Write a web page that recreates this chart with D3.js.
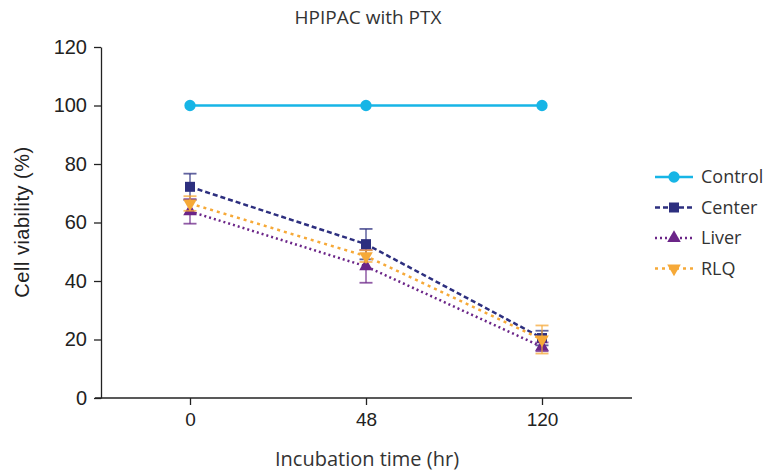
<!DOCTYPE html>
<html>
<head>
<meta charset="utf-8">
<script src="https://cdn.jsdelivr.net/npm/d3@7"></script>
<style>
  body { margin: 0; background: #fff; }
  text { font-family: "Liberation Sans", Arial, sans-serif; fill: #222; }
  .sans { font-family: "Open Sans", "Noto Sans", sans-serif; fill: #333; }
</style>
</head>
<body>
<div id="holder"></div>
<script>
const w = 765;
const h = 472;

// DATA
const times = ["0", "48", "120"];
const control = [100, 100, 100];
const controlErr = [0, 0, 0];
const center = [72.2, 52.6, 20.5];
const centerErr = [4.5, 5.2, 2.5];
const liver = [63.8, 45, 17.5];
const liverErr = [4.2, 5.6, 1.5];
const rlq = [66.5, 48.5, 20];
const rlqErr = [2.5, 2, 4.8];
const yTicks = [0, 20, 40, 60, 80, 100, 120];

const series = [
    { name: "Control", values: control, err: controlErr, color: "#17b5e6", dash: null, symbol: d3.symbolCircle, size: 100, rot: 0 },
    { name: "Center", values: center, err: centerErr, color: "#2d2f7f", dash: "5,3", symbol: d3.symbolSquare, size: 100, rot: 0 },
    { name: "Liver", values: liver, err: liverErr, color: "#6b2588", dash: "2,3", symbol: d3.symbolTriangle, size: 80, rot: 0 },
    { name: "RLQ", values: rlq, err: rlqErr, color: "#f6a938", dash: "3,4", symbol: d3.symbolTriangle, size: 80, rot: 180 }
];

// CREATE SVG
const svg = d3.select("#holder")
    .append("svg")
    .attr("width", w)
    .attr("height", h);

// SCALES
const xScale = d3.scalePoint()
    .domain(times)
    .range([102, 630])
    .padding(0.5);

const yScale = d3.scaleLinear()
    .domain([0, 120])
    .range([398, 47]);

// Y AXIS
const yAxis = d3.axisLeft(yScale).tickValues(yTicks).tickSize(7).tickSizeOuter(0).tickPadding(7);
const gy = svg.append("g")
    .attr("transform", "translate(101,0)")
    .call(yAxis);
gy.selectAll("text").style("font-size", "20px").style("font-family", "Liberation Sans").attr("fill", "#222");
gy.selectAll("line, path").attr("stroke", "#222").attr("stroke-width", 1.3);

// X AXIS
const xAxis = d3.axisBottom(xScale).tickSize(7).tickSizeOuter(0).tickPadding(8);
const gx = svg.append("g")
    .attr("transform", "translate(0,398)")
    .call(xAxis);
gx.select(".domain").remove();
gx.append("line")
    .attr("x1", 95).attr("x2", 632)
    .attr("stroke", "#222").attr("stroke-width", 1.3);
gx.selectAll("text").style("font-size", "19px").style("font-family", "Liberation Sans").attr("fill", "#222");
gx.selectAll("line").attr("stroke", "#222").attr("stroke-width", 1.3);

// TITLES
svg.append("text")
    .attr("class", "sans")
    .attr("x", 368).attr("y", 24)
    .attr("text-anchor", "middle")
    .style("font-size", "19px")
    .text("HPIPAC with PTX");

svg.append("text")
    .attr("class", "sans")
    .attr("x", 367).attr("y", 466)
    .attr("text-anchor", "middle")
    .style("font-size", "20px")
    .text("Incubation time (hr)");

svg.append("text")
    .attr("transform", "translate(29,222) rotate(-90)")
    .attr("text-anchor", "middle")
    .style("font-size", "20px")
    .style("letter-spacing", "0.5px")
    .text("Cell viability (%)");

// LINES, ERROR BARS, MARKERS
const line = d3.line()
    .x((d, i) => xScale(times[i]))
    .y(d => yScale(d));

series.forEach(s => {
    const g = svg.append("g");

    // error bars
    s.values.forEach((v, i) => {
        if (!s.err[i]) return;
        const x = xScale(times[i]);
        const y1 = yScale(v + s.err[i]);
        const y2 = yScale(v - s.err[i]);
        g.append("line").attr("x1", x).attr("x2", x).attr("y1", y1).attr("y2", y2)
            .attr("stroke", s.color).attr("stroke-width", 1.5).attr("opacity", 0.75);
        [y1, y2].forEach(y => {
            g.append("line").attr("x1", x - 6.5).attr("x2", x + 6.5).attr("y1", y).attr("y2", y)
                .attr("stroke", s.color).attr("stroke-width", 1.8).attr("opacity", 0.75);
        });
    });

    g.append("path")
        .datum(s.values)
        .attr("d", line)
        .attr("fill", "none")
        .attr("stroke", s.color)
        .attr("stroke-width", 2.5)
        .attr("stroke-dasharray", s.dash);

    g.selectAll("path.mark")
        .data(s.values)
        .enter()
        .append("path")
        .attr("class", "mark")
        .attr("d", d3.symbol().type(s.symbol).size(s.size))
        .attr("transform", (d, i) => "translate(" + xScale(times[i]) + "," + yScale(d) + ") rotate(" + s.rot + ")")
        .attr("fill", s.color);
});

// LEGEND
const legend = svg.append("g");
series.forEach((s, i) => {
    const y = 177 + i * 30.5;
    legend.append("line")
        .attr("x1", 655).attr("x2", 693).attr("y1", y).attr("y2", y)
        .attr("stroke", s.color).attr("stroke-width", 2.5)
        .attr("stroke-dasharray", s.dash);
    legend.append("path")
        .attr("d", d3.symbol().type(s.symbol).size(s.size))
        .attr("transform", "translate(674," + y + ") rotate(" + s.rot + ")")
        .attr("fill", s.color);
    legend.append("text")
        .attr("class", "sans")
        .attr("x", 701).attr("y", y + 6)
        .style("font-size", "18px")
        .text(s.name);
});
</script>
</body>
</html>
